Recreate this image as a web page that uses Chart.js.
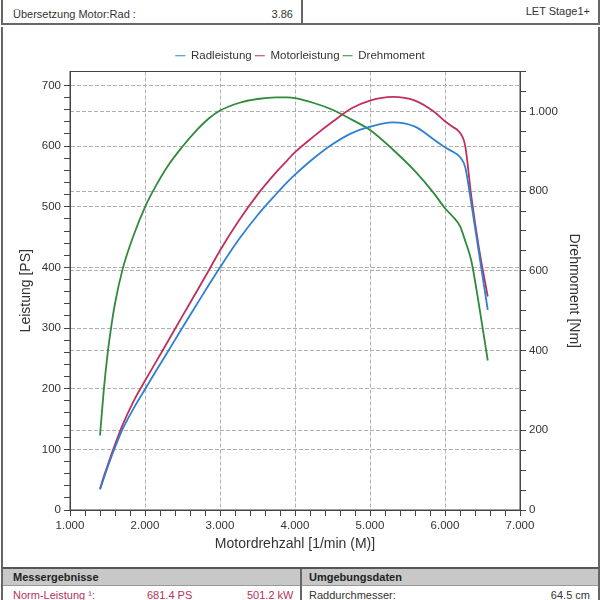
<!DOCTYPE html>
<html lang="de">
<head>
    <meta charset="UTF-8">
    <title>Leistungsmessung</title>
    <script src="https://cdn.jsdelivr.net/npm/chart.js"></script>
    <style>
        body {
            margin: 0;
            width: 600px;
            height: 600px;
            overflow: hidden;
            background: #fff;
            font-family: "Liberation Sans", Arial, sans-serif;
            color: #333;
        }
        #page { position: relative; width: 600px; height: 600px; }
        .hdr {
            position: absolute; left: 1px; top: -2px; width: 595px; height: 25px;
            border-left: 2px solid #666; border-right: 2px solid #666; border-bottom: 2px solid #666;
        }
        .hdr .sep { position: absolute; left: 298px; top: 0; width: 2px; height: 27px; background: #666; }
        .hdr .txt { position: absolute; top: 10px; font-size: 11px; }
        #panel {
            position: absolute; left: 1px; top: 27px; width: 595px; height: 540px;
            border-left: 2px solid #666; border-right: 2px solid #666;
        }
        #panel canvas { position: absolute; left: -3px; top: 0; }
        .tbl {
            position: absolute; left: 1px; top: 567px; width: 595px; height: 40px;
            border-left: 2px solid #666; border-right: 2px solid #666; border-top: 2px solid #555;
        }
        .tbl .bar { position: absolute; left: 0; top: 0; width: 595px; height: 16px; background: #c8c8c8; border-bottom: 1px solid #999; }
        .tbl .sep { position: absolute; left: 297px; top: 0; width: 2px; height: 40px; background: #666; }
        .tbl .txt { position: absolute; font-size: 11px; }
        .tbl .bold { font-weight: bold; color: #222; top: 2px; }
        .tbl .red { color: #b8325a; }
    </style>
</head>
<body>
<div id="page">
    <div class="hdr">
        <div class="sep"></div>
        <span class="txt" style="left: 10px;">Übersetzung Motor:Rad :</span>
        <span class="txt" style="right: 305px;">3.86</span>
        <span class="txt" style="right: 8px; top: 7px;">LET Stage1+</span>
    </div>

    <div id="panel">
        <canvas id="dyno" width="600" height="540"></canvas>
    </div>

    <div class="tbl">
        <div class="bar"></div>
        <div class="sep"></div>
        <span class="txt bold" style="left: 10px;">Messergebnisse</span>
        <span class="txt bold" style="left: 306px;">Umgebungsdaten</span>
        <span class="txt red" style="left: 10px; top: 20px;">Norm-Leistung ¹:</span>
        <span class="txt red" style="left: 144px; top: 20px;">681.4 PS</span>
        <span class="txt red" style="left: 244px; top: 20px;">501.2 kW</span>
        <span class="txt" style="left: 306px; top: 20px;">Raddurchmesser:</span>
        <span class="txt" style="right: 8px; top: 20px;">64.5 cm</span>
    </div>
</div>

<script>
    // Messpunkte (Motordrehzahl in 1/min)
    const drehzahl = [1400, 1450, 1500, 1550, 1600, 1700, 1850, 2000, 2150, 2300, 2500, 2650, 2850, 3000,
                      3250, 3500, 3750, 3900, 4000, 4250, 4500, 4750, 5000, 5300, 5600, 5850, 6000,
                      6100, 6200, 6270, 6350, 6450, 6570];
    // Leistung in PS
    const radleistung   = [34, 52, 70, 87, 103, 133, 168, 199, 230, 260, 301, 331, 371, 400,
                           446, 486, 521, 541, 553, 580, 603, 621, 632, 639, 632, 611, 598,
                           591, 582, 565, 506, 426, 330];
    const motorleistung = [35, 55, 73, 91, 108, 140, 180, 213, 245, 277, 320, 352, 395, 428,
                           477, 520, 557, 577, 590, 616, 640, 662, 675, 681, 675, 657, 641,
                           632, 622, 600, 518, 434, 352];
    // Drehmoment in Nm
    const drehmoment    = [187, 300, 390, 460, 518, 603, 690, 760, 815, 862, 912, 945, 982, 1002,
                           1021, 1031, 1035, 1035, 1033, 1021, 1004, 980, 953, 905, 850, 795, 757,
                           737, 712, 675, 626, 518, 375];

    const colRad = "#2f7fd2";
    const colMotor = "#c0305c";
    const colMoment = "#2f8a3c";
    const gridCol = "#b0b0b0";

    function punkte(werte) {
        return drehzahl.map((n, i) => ({ x: n, y: werte[i] }));
    }

    // deutsche Tausendertrennung
    function fmt(v) {
        return String(v).replace(/\B(?=(\d{3})+(?!\d))/g, ".");
    }

    const titleFont = { family: "Liberation Sans", size: 14 };
    const tickFont = { family: "Liberation Sans", size: 11.5 };

    // Rahmen um die Zeichenfläche
    const rahmen = {
        id: "rahmen",
        beforeDatasetsDraw(chart) {
            const a = chart.chartArea;
            const ctx = chart.ctx;
            ctx.save();
            ctx.strokeStyle = "#444";
            ctx.lineWidth = 1;
            ctx.strokeRect(a.left, a.top, a.right - a.left, a.bottom - a.top);
            ctx.restore();
        }
    };

    new Chart(document.getElementById("dyno"), {
        type: "line",
        data: {
            datasets: [
                { label: "Radleistung", data: punkte(radleistung), borderColor: colRad, backgroundColor: colRad, yAxisID: "y" },
                { label: "Motorleistung", data: punkte(motorleistung), borderColor: colMotor, backgroundColor: colMotor, yAxisID: "y" },
                { label: "Drehmoment", data: punkte(drehmoment), borderColor: colMoment, backgroundColor: colMoment, yAxisID: "y2" }
            ]
        },
        options: {
            responsive: false,
            animation: false,
            elements: {
                point: { radius: 0 },
                line: { borderWidth: 1.8, cubicInterpolationMode: "monotone", fill: false }
            },
            layout: { padding: { top: 20, left: 10, right: 10, bottom: 10 } },
            plugins: {
                legend: {
                    labels: {
                        usePointStyle: true,
                        pointStyle: "line",
                        pointStyleWidth: 10,
                        padding: 3,
                        color: "#333",
                        font: { family: "Liberation Sans", size: 11.5 }
                    }
                },
                tooltip: { enabled: false }
            },
            scales: {
                x: {
                    type: "linear",
                    min: 1000,
                    max: 7000,
                    afterFit: (s) => { s.height = 47; },
                    ticks: {
                        stepSize: 200,
                        autoSkip: false,
                        maxRotation: 0,
                        color: "#333",
                        font: tickFont,
                        callback: (v) => (v % 1000 === 0 ? fmt(v) : "")
                    },
                    grid: {
                        color: (c) => (c.tick && c.tick.value % 1000 === 0 && c.tick.value > 1000 && c.tick.value < 7000 ? gridCol : "transparent"),
                        tickColor: "#444",
                        tickLength: 6
                    },
                    border: { color: "#444", dash: [4, 2] },
                    title: { display: true, text: "Motordrehzahl [1/min (M)]", color: "#333", font: titleFont, padding: { top: 0, bottom: 4 } }
                },
                y: {
                    position: "left",
                    min: 0,
                    max: 723,
                    afterFit: (s) => { s.width = 60; },
                    ticks: {
                        stepSize: 20,
                        autoSkip: false,
                        color: "#333",
                        font: tickFont,
                        callback: (v) => (v % 100 === 0 ? v : "")
                    },
                    grid: {
                        color: (c) => (c.tick && c.tick.value % 100 === 0 && c.tick.value > 0 ? gridCol : "transparent"),
                        tickColor: (c) => (c.tick && c.tick.value % 20 === 0 ? "#444" : "transparent"),
                        tickLength: 6
                    },
                    border: { color: "#444", dash: [4, 2] },
                    title: { display: true, text: "Leistung [PS]", color: "#333", font: titleFont, padding: { top: 8, bottom: 0 } }
                },
                y2: {
                    position: "right",
                    min: 0,
                    max: 1100,
                    afterFit: (s) => { s.width = 70; },
                    ticks: {
                        stepSize: 50,
                        autoSkip: false,
                        color: "#333",
                        font: tickFont,
                        callback: (v) => (v % 200 === 0 ? fmt(v) : "")
                    },
                    grid: {
                        color: (c) => (c.tick && c.tick.value % 200 === 0 && c.tick.value > 0 ? gridCol : "transparent"),
                        tickColor: (c) => (c.tick && c.tick.value % 50 === 0 ? "#444" : "transparent"),
                        tickLength: 6
                    },
                    border: { color: "#444", dash: [4, 2] },
                    title: { display: true, text: "Drehmoment [Nm]", color: "#333", font: titleFont, padding: { top: 8, bottom: 0 } }
                }
            }
        },
        plugins: [rahmen]
    });
</script>
</body>
</html>
